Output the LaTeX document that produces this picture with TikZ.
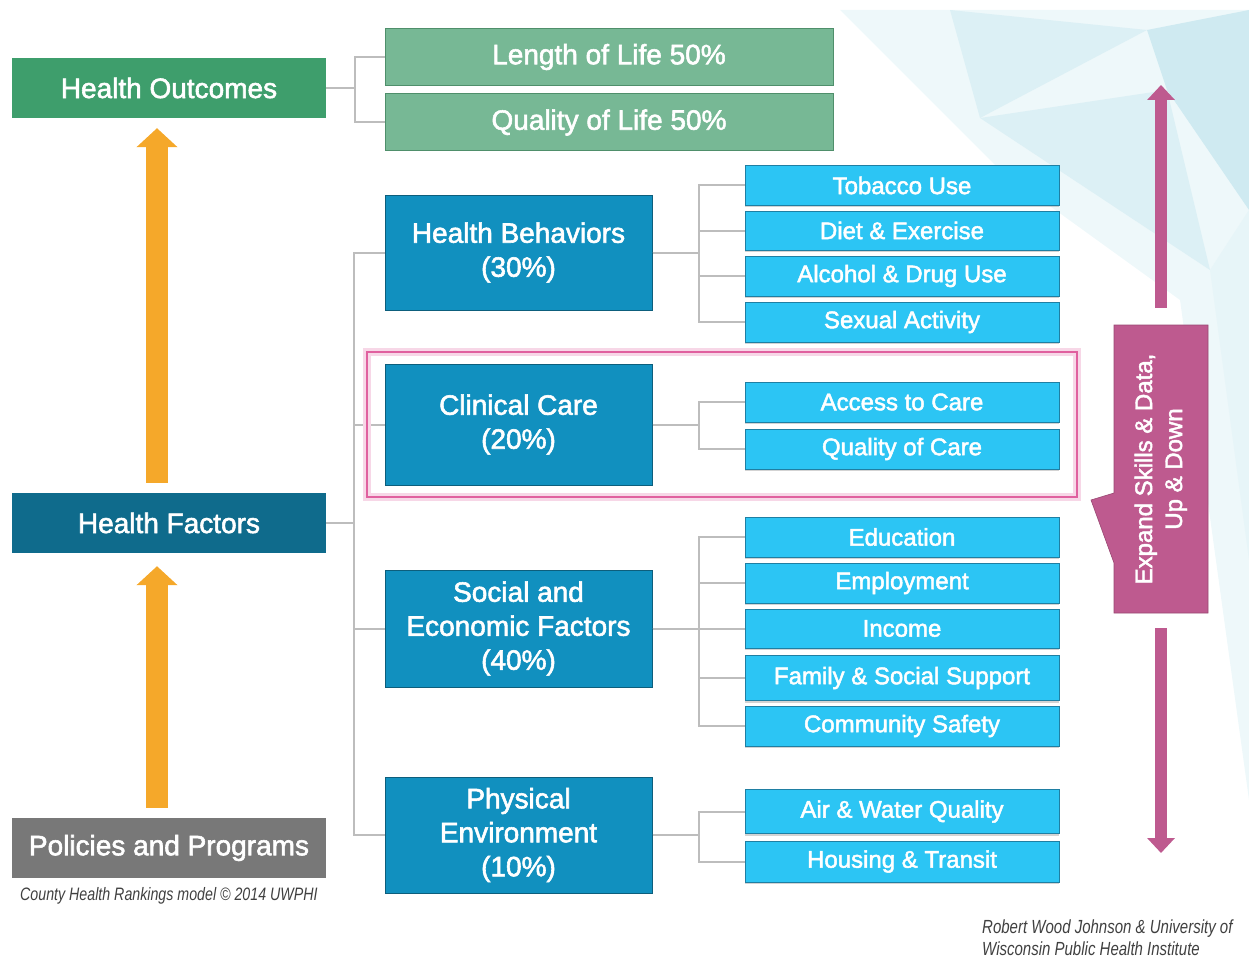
\documentclass[tikz,border=0pt]{standalone}
\usepackage{fontspec}
\usepackage{graphicx}
\setmainfont{Liberation Sans}
\newfontfamily\boxfont[FakeBold=2]{Liberation Sans}
\newfontfamily\notefont[FakeStretch=0.79]{Liberation Sans}
\usetikzlibrary{arrows.meta,positioning,calc,shadows}

\definecolor{outgreen}{HTML}{3E9E6C}
\definecolor{lifegreen}{HTML}{77B895}
\definecolor{lifeedge}{HTML}{4F8F6B}
\definecolor{factteal}{HTML}{0F6B8C}
\definecolor{polgray}{HTML}{787878}
\definecolor{midblue}{HTML}{1190BF}
\definecolor{midedge}{HTML}{0D5E7C}
\definecolor{subcyan}{HTML}{2CC5F4}
\definecolor{subedge}{HTML}{1F7FA3}
\definecolor{linkgray}{HTML}{BDBDBD}
\definecolor{arroworange}{HTML}{F5A82A}
\definecolor{hlpink}{HTML}{E0609F}
\definecolor{expmagenta}{HTML}{BE5A8F}
\definecolor{facetA}{HTML}{EEF8FA}
\definecolor{facetB}{HTML}{DCF0F5}
\definecolor{facetC}{HTML}{CFEAF1}

\tikzset{
  box/.style={rectangle,inner sep=0pt,text=white,align=center,font=\boxfont\fontsize{28}{34}\selectfont},
  outbox/.style={box,minimum width=314pt,minimum height=60pt},
  lifebox/.style={box,fill=lifegreen,draw=lifeedge,line width=1pt,minimum width=448pt,minimum height=57pt},
  factor/.style={box,fill=midblue,draw=midedge,line width=1pt,minimum width=267pt},
  subbox/.style={box,fill=subcyan,draw=subedge,line width=1pt,minimum width=314pt,
    font=\boxfont\fontsize{24}{28}\selectfont,drop shadow={shadow xshift=0pt,shadow yshift=-2pt,opacity=0.35}},
  link/.style={draw=linkgray,line width=2pt},
  uparrow/.style={draw=arroworange,line width=22pt,-{Triangle[width=40pt,length=19pt]}},
  vertarrow/.style={draw=expmagenta,line width=12pt,-{Triangle[width=27pt,length=15pt]}},
  note/.style={inner sep=0pt,text=black!75,align=left}
}

\begin{document}
\begin{tikzpicture}[x=1pt,y=-1pt]
  \useasboundingbox (0,0) rectangle (1249,960);
  \fill[facetA] (840,10) -- (1249,10) -- (1249,800) -- (1180,300) -- (1000,170) -- cycle;
  \fill[facetB] (950,10) -- (1147,30) -- (980,118) -- cycle;
  \fill[facetC] (1147,30) -- (1249,10) -- (1249,210) -- (1167,90) -- cycle;
  \fill[facetB] (980,118) -- (1167,90) -- (1210,270) -- cycle;
  \fill[facetB!70!white] (1210,270) -- (1249,210) -- (1249,560) -- cycle;

  \node[outbox,fill=outgreen] (ho) at (169,88) {Health Outcomes};
  \node[lifebox] (lol) at (609,57) {Length of Life 50\%};
  \node[lifebox] (qol) at (609,122.5) {Quality of Life 50\%};
  \node[outbox,fill=factteal] (hf) at (169,523) {Health Factors};
  \node[outbox,fill=polgray] (pp) at (169,848) {Policies and Programs};
  \node[note,anchor=base west,font=\notefont\itshape\fontsize{18}{21}\selectfont] (cap) at (20,900)
    {County Health Rankings model © 2014 UWPHI};

  \node[factor,minimum height=115pt] (hb) at (518.5,252.5) {Health Behaviors\\(30\%)};
  \node[factor,minimum height=121pt] (cc) at (518.5,424.5) {Clinical Care\\(20\%)};
  \node[factor,minimum height=117pt] (se) at (518.5,628.5) {Social and\\Economic Factors\\(40\%)};
  \node[factor,minimum height=116pt] (pe) at (518.5,835) {Physical\\Environment\\(10\%)};

  \foreach \n/\y/\h/\t in {tob/185.5/39/Tobacco Use,diet/230.5/39/Diet \& Exercise,
      alc/276/40/Alcohol \& Drug Use,sex/322/40/Sexual Activity,
      acc/402/40/Access to Care,qoc/449/40/Quality of Care,
      edu/537/40/Education,emp/583/40/Employment,inc/628.5/39/Income,
      fam/678/45/Family \& Social Support,com/726/40/Community Safety,
      air/811.5/44/Air \& Water Quality,hou/861.5/41/Housing \& Transit}
    \node[subbox,minimum height=\h pt] (\n) at (902,\y) {\t};

  \foreach \o in {lol,qol} \draw[link] (ho.east) -- ++(29,0) |- (\o.west);
  \foreach \f in {hb,cc,se,pe} \draw[link] (hf.east) -- ++(28,0) |- (\f.west);
  \foreach \s in {tob,diet,alc,sex} \draw[link] (hb.east) -- ++(46,0) |- (\s.west);
  \foreach \s in {acc,qoc} \draw[link] (cc.east) -- ++(46,0) |- (\s.west);
  \foreach \s in {edu,emp,inc,fam,com} \draw[link] (se.east) -- ++(46,0) |- (\s.west);
  \foreach \s in {air,hou} \draw[link] (pe.east) -- ++(46,0) |- (\s.west);

  \draw[hlpink!25,line width=8pt] (367,352) rectangle (1077,497);
  \draw[hlpink,line width=2.5pt] (367,352) rectangle (1077,497);

  \draw[uparrow] ([xshift=-12pt,yshift=10pt]hf.north) -- ([xshift=-12pt,yshift=-10pt]ho.south);
  \draw[uparrow] ([xshift=-12pt,yshift=10pt]pp.north) -- ([xshift=-12pt,yshift=-13pt]hf.south);

  \filldraw[fill=expmagenta,draw=expmagenta!80!black,line width=0.6pt]
    (1114,325) -- (1208,325) -- (1208,613) -- (1114,613) -- (1114,563) -- (1091,500) -- (1114,493) -- cycle;
  \node[inner sep=0pt,minimum width=94pt,minimum height=288pt,text=white,font=\boxfont\fontsize{24}{30}\selectfont] (cb) at (1161,469)
    {\rotatebox{90}{\begin{tabular}{@{}c@{}}Expand Skills \& Data,\\Up \& Down\end{tabular}}};
  \coordinate (uptip) at (1161,85);
  \coordinate (downtip) at (1161,853);
  \draw[vertarrow] ([yshift=17pt]cb.north) -- (uptip);
  \draw[vertarrow] ([yshift=-15pt]cb.south) -- (downtip);

  \node[note,anchor=north west,font=\notefont\itshape\fontsize{19}{22}\selectfont] (credit) at (982,920)
    {Robert Wood Johnson \& University of\\Wisconsin Public Health Institute};
\end{tikzpicture}
\end{document}
